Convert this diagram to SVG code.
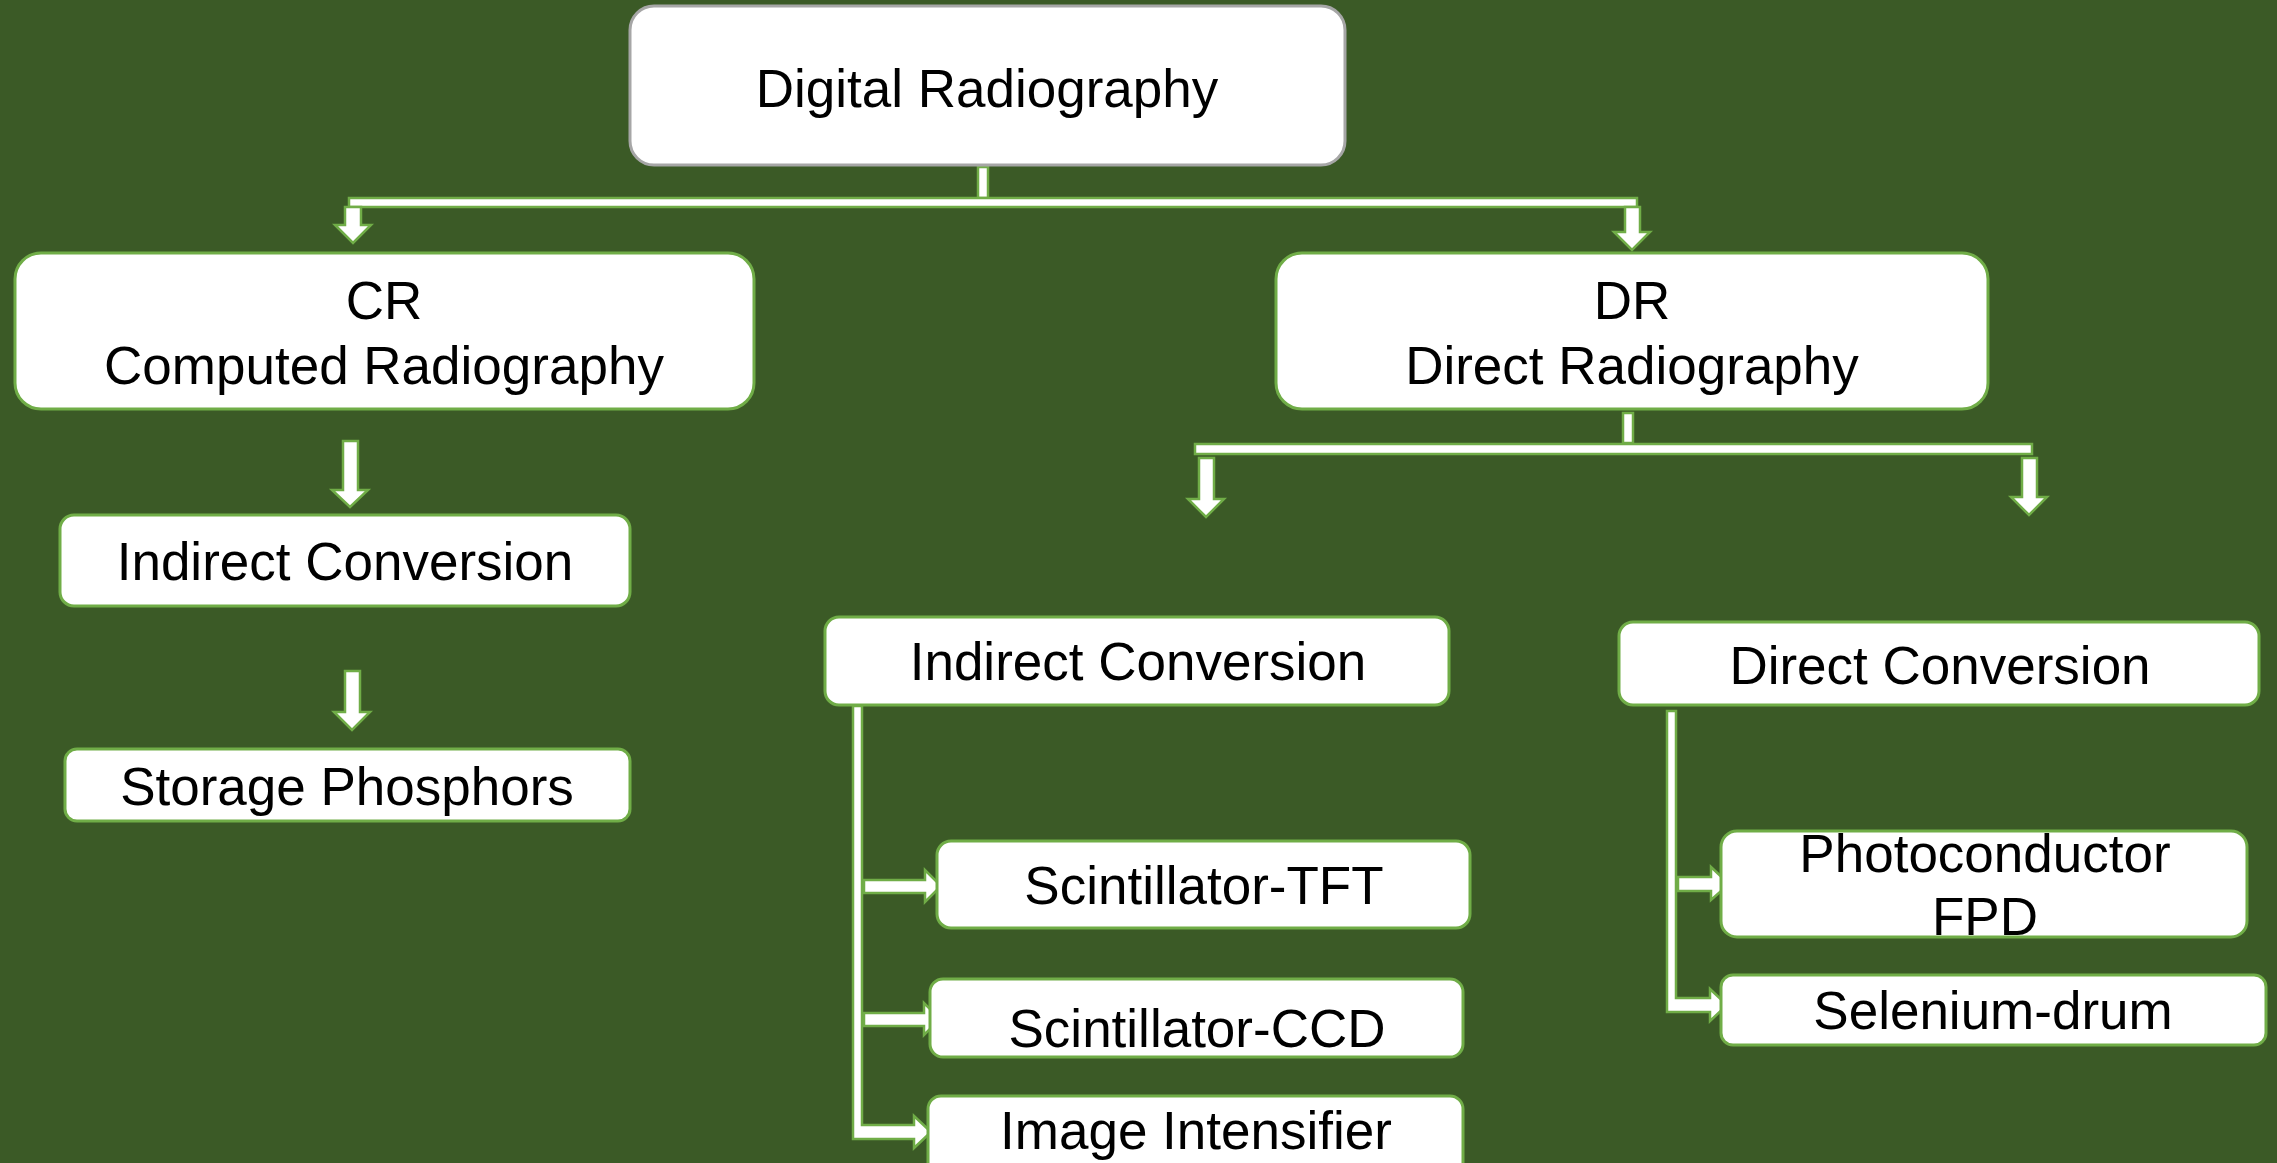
<svg xmlns="http://www.w3.org/2000/svg" width="2277" height="1163" viewBox="0 0 2277 1163">
<style>
.box{fill:#fff;stroke:#70AD47;stroke-width:3}
.top{fill:#fff;stroke:#A6A6A6;stroke-width:3}
.con{fill:#fff;stroke:#70AD47;stroke-width:2.5;stroke-linejoin:miter}
text{font-family:"Liberation Sans",Arial,sans-serif;font-size:53px;fill:#000;text-anchor:middle}
</style>
<rect x="0" y="0" width="2277" height="1163" fill="#3B5A26"/>
<g id="connectors">
  <rect class="con" x="978" y="167" width="10" height="31"/>
  <rect class="con" x="349" y="198" width="1288" height="9"/>
  <polygon class="con" points="345,207 361,207 361,225 371,225 353,243 335,225 345,225"/>
  <polygon class="con" points="1625,207 1640,207 1640,232 1650,232 1632,250 1614,232 1625,232"/>
  <polygon class="con" points="343,441 358,441 358,490 368,490 350,507 332,490 343,490"/>
  <polygon class="con" points="345,671 360,671 360,712 370,712 352,730 334,712 345,712"/>
  <rect class="con" x="1623" y="413" width="10" height="30"/>
  <rect class="con" x="1195" y="444" width="837" height="10"/>
  <polygon class="con" points="1199,458 1214,458 1214,499 1224,499 1206,517 1188,499 1199,499"/>
  <polygon class="con" points="2022,458 2037,458 2037,497 2047,497 2029,515 2011,497 2022,497"/>
  <polygon class="con" points="853,706 862,706 862,1125 914,1125 914,1116 931,1132 914,1148 914,1139 853,1139"/>
  <polygon class="con" points="864,880 925,880 925,870 941,886 925,902 925,893 864,893"/>
  <polygon class="con" points="864,1013 924,1013 924,1003 940,1019 924,1035 924,1026 864,1026"/>
  <polygon class="con" points="1667,711 1676,711 1676,998 1710,998 1710,989 1727,1005 1710,1021 1710,1012 1667,1012"/>
  <polygon class="con" points="1678,877 1711,877 1711,867 1729,884 1711,900 1711,891 1678,891"/>
</g>
<g id="digital-radiography">
  <rect class="top" x="630" y="6" width="715" height="159" rx="24"/>
  <text x="987" y="107">Digital Radiography</text>
</g>
<g id="cr">
  <rect class="box" x="15" y="253" width="739" height="156" rx="26"/>
  <text x="384" y="319">CR</text>
  <text x="384" y="384">Computed Radiography</text>
</g>
<g id="dr">
  <rect class="box" x="1276" y="253" width="712" height="156" rx="26"/>
  <text x="1632" y="319">DR</text>
  <text x="1632" y="384">Direct Radiography</text>
</g>
<g id="cr-indirect">
  <rect class="box" x="60" y="515" width="570" height="91" rx="14"/>
  <text x="345" y="580">Indirect Conversion</text>
</g>
<g id="storage-phosphors">
  <rect class="box" x="65" y="749" width="565" height="72" rx="12"/>
  <text x="347" y="805">Storage Phosphors</text>
</g>
<g id="dr-indirect">
  <rect class="box" x="825" y="617" width="624" height="88" rx="14"/>
  <text x="1138" y="680">Indirect Conversion</text>
</g>
<g id="direct-conversion">
  <rect class="box" x="1619" y="622" width="640" height="83" rx="14"/>
  <text x="1940" y="684">Direct Conversion</text>
</g>
<g id="scintillator-tft">
  <rect class="box" x="937" y="841" width="533" height="87" rx="14"/>
  <text x="1204" y="904">Scintillator-TFT</text>
</g>
<g id="scintillator-ccd">
  <rect class="box" x="930" y="979" width="533" height="78" rx="13"/>
  <text x="1197" y="1047">Scintillator-CCD</text>
</g>
<g id="image-intensifier">
  <rect class="box" x="928" y="1096" width="535" height="80" rx="13"/>
  <text x="1196" y="1149">Image Intensifier</text>
</g>
<g id="photoconductor-fpd">
  <rect class="box" x="1721" y="831" width="526" height="106" rx="16"/>
  <text x="1985" y="872">Photoconductor</text>
  <text x="1985" y="935">FPD</text>
</g>
<g id="selenium-drum">
  <rect class="box" x="1721" y="975" width="545" height="70" rx="12"/>
  <text x="1993" y="1029">Selenium-drum</text>
</g>
</svg>
